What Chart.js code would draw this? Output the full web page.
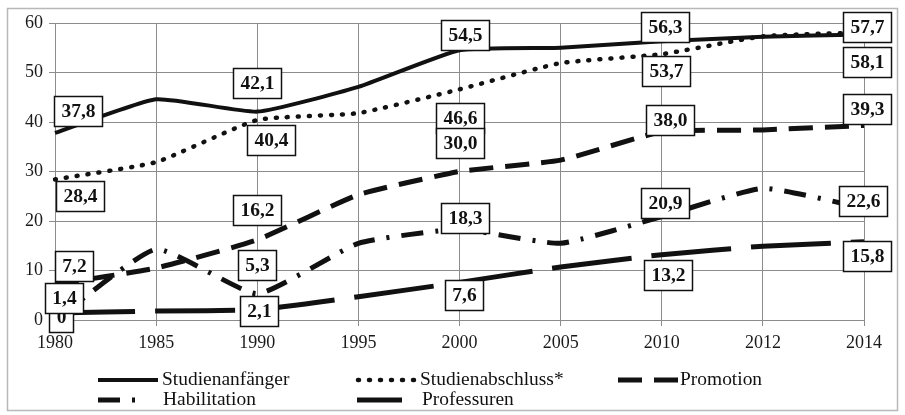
<!DOCTYPE html>
<html lang="de">
<head>
<meta charset="utf-8">
<title>Frauenanteile an Hochschulen 1980–2014</title>
<script src="https://cdn.jsdelivr.net/npm/chart.js@4.4.0/dist/chart.umd.min.js"></script>
<style>
  html, body { margin: 0; padding: 0; background: #fff; }
  canvas { display: block; }
</style>
</head>
<body>
<canvas id="chart" width="905" height="415"></canvas>
<script>
// Frauenanteil in %, nach Qualifikationsstufe
const years = ['1980', '1985', '1990', '1995', '2000', '2005', '2010', '2012', '2014'];
const studienanfaenger = [37.8, 44.6, 42.1, 47.1, 54.5, 55.0, 56.3, 57.2, 57.7];
const studienabschluss = [28.4, 31.9, 40.4, 41.8, 46.6, 51.9, 53.7, 57.3, 58.1];
const promotion = [7.2, 10.5, 16.2, 25.3, 30.0, 32.3, 38.0, 38.4, 39.3];
const habilitation = [0, 14.3, 5.3, 15.5, 18.3, 15.5, 20.9, 26.6, 22.6];
const professuren = [1.4, 1.8, 2.1, 4.7, 7.6, 10.7, 13.2, 14.9, 15.8];
const yTicks = [0, 10, 20, 30, 40, 50, 60];
// years that get a value box
const labelledYears = ['1980', '1990', '2000', '2010', '2014'];

const SERIF = '"Liberation Serif", "Times New Roman", serif';
const INK = '#111';
const STRETCH = 1.08; // the serif face is set a little wide

// box offsets (dx, dy) from the point, one per labelled year
const boxOffsets = {
  'Studienanfänger': [[23, -22], [0, -29], [5, -15], [3, -14], [3, -7]],
  'Studienabschluss*': [[25, 17], [14, 20], [0, 29], [4, 17], [3, 30]],
  'Promotion': [[19, -18], [0, -30], [0, -29], [8, -12], [3, -16]],
  'Habilitation': [[6, -3], [0, -29], [5, -11], [3, -14], [-1, -7]],
  'Professuren': [[9, -15], [2, 1], [4, 13], [6, 20], [3, 14]],
};

// legend rows are laid out by hand
const legendSlots = [
  { x: 98, y: 380, len: 60, textX: 162 },
  { x: 358, y: 380, len: 56, textX: 420 },
  { x: 618, y: 380, len: 60, textX: 680 },
  { x: 98, y: 400, len: 44, textX: 163 },
  { x: 357, y: 400, len: 45, textX: 422 },
];

const fmt = (v) => (v === 0 ? '0' : v.toFixed(1).replace('.', ','));

function stretchedText(ctx, text, x, y) {
  ctx.save();
  ctx.translate(x, y);
  ctx.scale(STRETCH, 1);
  ctx.fillText(text, 0, 0);
  ctx.restore();
}

const frame = {
  id: 'frame',
  beforeDraw(chart) {
    const { ctx } = chart;
    ctx.save();
    ctx.fillStyle = '#fff';
    ctx.fillRect(0, 0, chart.width, chart.height);
    ctx.strokeStyle = '#b8b8b8';
    ctx.lineWidth = 1.5;
    ctx.strokeRect(7.5, 8.5, 890, 402);
    ctx.restore();
  },
};

const valueBoxes = {
  id: 'valueBoxes',
  afterDatasetsDraw(chart) {
    const { ctx } = chart;
    const xs = chart.scales.x;
    const ys = chart.scales.y;
    ctx.save();
    ctx.font = `bold 18px ${SERIF}`;
    ctx.textAlign = 'center';
    ctx.textBaseline = 'middle';
    chart.data.datasets.forEach((ds) => {
      const offsets = boxOffsets[ds.label];
      labelledYears.forEach((yr, k) => {
        const i = years.indexOf(yr);
        const text = fmt(ds.data[i]);
        const cx = xs.getPixelForValue(i) + offsets[k][0];
        const cy = ys.getPixelForValue(ds.data[i]) + offsets[k][1];
        const w = Math.round(ctx.measureText(text).width * STRETCH + 14);
        const h = 30;
        const left = Math.round(cx - w / 2) + 0.5;
        const top = Math.round(cy - h / 2) + 0.5;
        ctx.fillStyle = '#fff';
        ctx.fillRect(left, top, w, h);
        ctx.strokeStyle = INK;
        ctx.lineWidth = 1.5;
        ctx.strokeRect(left, top, w, h);
        ctx.fillStyle = INK;
        stretchedText(ctx, text, left + w / 2, top + h / 2 + 1);
      });
    });
    ctx.restore();
  },
};

const lineLegend = {
  id: 'lineLegend',
  afterDraw(chart) {
    const { ctx } = chart;
    ctx.save();
    ctx.font = `18px ${SERIF}`;
    ctx.textAlign = 'left';
    ctx.textBaseline = 'middle';
    chart.data.datasets.forEach((ds, i) => {
      const s = legendSlots[i];
      ctx.strokeStyle = ds.borderColor;
      ctx.lineWidth = ds.borderWidth;
      ctx.lineCap = ds.borderCapStyle || 'butt';
      ctx.setLineDash(ds.borderDash || []);
      ctx.beginPath();
      ctx.moveTo(s.x, s.y);
      ctx.lineTo(s.x + s.len, s.y);
      ctx.stroke();
      ctx.setLineDash([]);
      ctx.fillStyle = INK;
      stretchedText(ctx, ds.label, s.textX, s.y);
    });
    ctx.restore();
  },
};

const series = (label, data, style) => ({
  label,
  data,
  borderColor: INK,
  backgroundColor: INK,
  pointRadius: 0,
  pointHoverRadius: 0,
  tension: 0.15,
  fill: false,
  ...style,
});

new Chart(document.getElementById('chart'), {
  type: 'line',
  data: {
    labels: years,
    datasets: [
      series('Studienanfänger', studienanfaenger, { borderWidth: 4 }),
      series('Studienabschluss*', studienabschluss, {
        borderWidth: 4.5, borderDash: [1, 10], borderCapStyle: 'round',
      }),
      series('Promotion', promotion, { borderWidth: 5, borderDash: [24, 12] }),
      series('Habilitation', habilitation, { borderWidth: 5, borderDash: [22, 12, 3, 12] }),
      series('Professuren', professuren, { borderWidth: 5, borderDash: [80, 20] }),
    ],
  },
  options: {
    responsive: false,
    animation: false,
    devicePixelRatio: 1,
    layout: { padding: { left: 10, right: 41, top: 23, bottom: 62 } },
    plugins: {
      legend: { display: false },
      tooltip: { enabled: false },
    },
    scales: {
      x: {
        offset: false,
        grid: { color: '#8c8c8c', lineWidth: 1, tickLength: 6, tickColor: '#8c8c8c' },
        border: { color: '#8c8c8c' },
        ticks: {
          color: '#1a1a1a', font: { family: SERIF, size: 18 }, padding: 6, maxRotation: 0,
        },
        afterFit(scale) { scale.height = 33; },
      },
      y: {
        min: yTicks[0],
        max: yTicks[yTicks.length - 1],
        afterBuildTicks(scale) { scale.ticks = yTicks.map((v) => ({ value: v })); },
        grid: { color: '#8c8c8c', lineWidth: 1, tickLength: 6, tickColor: '#8c8c8c' },
        border: { color: '#8c8c8c' },
        ticks: { color: '#1a1a1a', font: { family: SERIF, size: 18 }, padding: 6 },
        afterFit(scale) { scale.width = 45; },
      },
    },
  },
  plugins: [frame, valueBoxes, lineLegend],
});
</script>
</body>
</html>
